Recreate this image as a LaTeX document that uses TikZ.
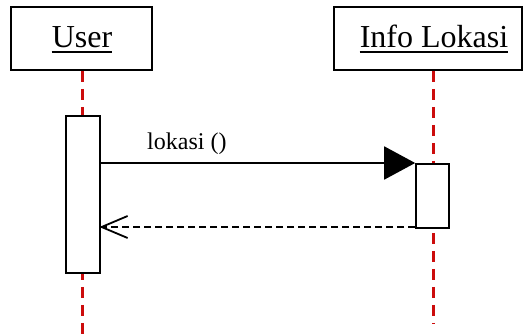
\documentclass[tikz,border=0pt]{standalone}
\usepackage{fontspec}
\setmainfont{Liberation Serif}
\usetikzlibrary{arrows.meta}
\definecolor{lifered}{RGB}{204,12,12}
\tikzset{
  objbox/.style={draw=black, line width=1.6pt, fill=white, inner sep=0pt, minimum height=63pt},
  actbox/.style={draw=black, line width=1.6pt, fill=white, inner sep=0pt},
  lifeline/.style={draw=lifered, line width=3pt, dash pattern=on 11pt off 7pt},
  objtext/.style={font=\fontsize{32}{38}\selectfont, inner sep=0pt, anchor=base},
  msgtext/.style={font=\fontsize{24}{28}\selectfont, inner sep=0pt, anchor=base west},
  callmsg/.style={line width=1.8pt, -{Triangle[length=31pt,width=33pt]}},
  retmsg/.style={line width=1.8pt, dash pattern=on 7pt off 4pt, shorten >=-1.5pt, -{Straight Barb[length=26pt,width=22pt,line width=1.8pt]}}
}
\begin{document}
\begin{tikzpicture}[x=1pt,y=-1pt]
\useasboundingbox (0,0) rectangle (523,335);
% object boxes
\node[objbox, minimum width=141pt] (userbox) at (81.5,38.5) {};
\node[objbox, minimum width=188pt] (infobox) at (428,38.5) {};
\node[objtext] (usertxt) at (82,47) {User};
\node[objtext] (infotxt) at (434,47) {Info Lokasi};
\draw[line width=1.6pt] ([yshift=-5pt]usertxt.base west) -- ([yshift=-5pt]usertxt.base east);
\draw[line width=1.6pt] ([yshift=-5pt]infotxt.base west) -- ([yshift=-5pt]infotxt.base east);
% lifelines
\coordinate (userend) at (82,335);
\coordinate (infoend) at (433,323);
\draw[lifeline] (userbox.south -| userend) -- (userend);
\draw[lifeline] (infobox.south -| infoend) -- (infoend);
% activations
\node[actbox, minimum width=34pt, minimum height=157pt] (useract) at (83,194.5) {};
\node[actbox, minimum width=33pt, minimum height=64pt] (infoact) at (432.5,196) {};
% messages
\coordinate (cally) at (0,163);
\coordinate (rety) at (0,227);
\draw[callmsg] (useract.east |- cally) -- (infoact.west |- cally);
\node[msgtext] (calllbl) at (147,149) {lokasi ()};
\draw[retmsg] (infoact.west |- rety) -- (useract.east |- rety);
\end{tikzpicture}
\end{document}
